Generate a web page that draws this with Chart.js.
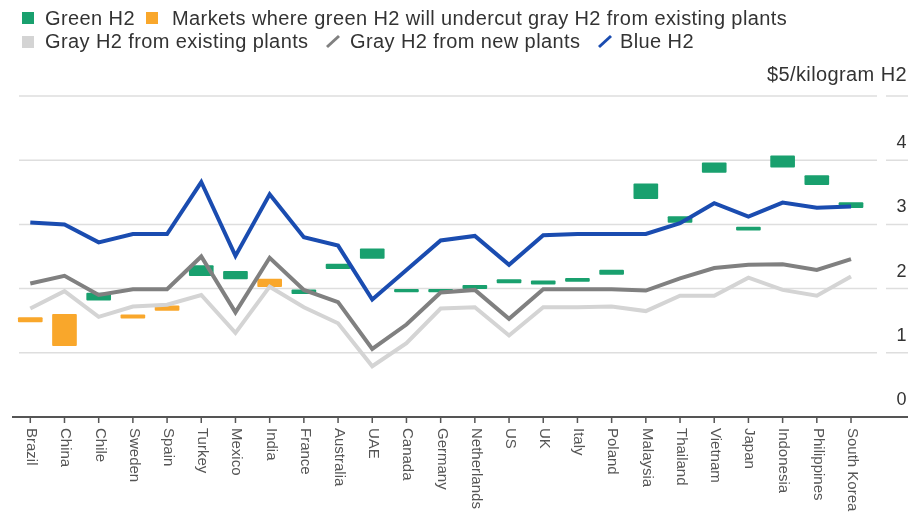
<!DOCTYPE html>
<html>
<head>
<meta charset="utf-8">
<script src="https://cdn.jsdelivr.net/npm/chart.js@4.4.1/dist/chart.umd.min.js"></script>
<style>
  body { margin: 0; background: #fff; }
  #wrap { position: relative; width: 917px; height: 516px; font-family: "Liberation Sans", Arial, sans-serif; }
  #chart { position: absolute; left: 0; top: 0; }
  .key { position: absolute; font-size: 20px; line-height: 20px; color: #333; letter-spacing: 0.4px; white-space: nowrap; }
  .sq { position: absolute; width: 12px; height: 12px; }
  .slash { position: absolute; }
</style>
</head>
<body>
<div id="wrap">
  <canvas id="chart" width="917" height="516"></canvas>
  <div class="sq" style="left:22px;top:12px;background:#19a06e"></div>
  <div class="key" style="left:45px;top:8px">Green H2</div>
  <div class="sq" style="left:146px;top:12px;background:#f9a72b"></div>
  <div class="key" style="left:172px;top:8px">Markets where green H2 will undercut gray H2 from existing plants</div>
  <div class="sq" style="left:22px;top:36px;background:#d4d4d4"></div>
  <div class="key" style="left:45px;top:31px">Gray H2 from existing plants</div>
  <svg class="slash" style="left:324px;top:34px" width="18" height="15"><line x1="3" y1="13" x2="15" y2="2" stroke="#808080" stroke-width="3"/></svg>
  <div class="key" style="left:350px;top:31px">Gray H2 from new plants</div>
  <svg class="slash" style="left:596px;top:34px" width="18" height="15"><line x1="3" y1="13" x2="15" y2="2" stroke="#1a4cb0" stroke-width="3"/></svg>
  <div class="key" style="left:620px;top:31px">Blue H2</div>
</div>
<script>
const countries = ['Brazil', 'China', 'Chile', 'Sweden', 'Spain', 'Turkey', 'Mexico', 'India', 'France',
  'Australia', 'UAE', 'Canada', 'Germany', 'Netherlands', 'US', 'UK', 'Italy', 'Poland', 'Malaysia',
  'Thailand', 'Vietnam', 'Japan', 'Indonesia', 'Philippines', 'South Korea'];

// $/kg H2
const blueH2 = [3.03, 3.00, 2.72, 2.85, 2.85, 3.66, 2.51, 3.47, 2.80, 2.67, 1.83, 2.29, 2.75,
  2.82, 2.37, 2.83, 2.85, 2.85, 2.85, 3.02, 3.33, 3.12, 3.34, 3.26, 3.28];
const grayNew = [2.08, 2.20, 1.90, 1.99, 1.99, 2.50, 1.63, 2.48, 1.98, 1.79, 1.06, 1.44, 1.94,
  1.98, 1.53, 1.99, 1.99, 1.99, 1.97, 2.16, 2.32, 2.37, 2.38, 2.29, 2.46];
const grayExisting = [1.69, 1.96, 1.56, 1.72, 1.75, 1.90, 1.31, 2.03, 1.71, 1.46, 0.79, 1.15, 1.69,
  1.71, 1.27, 1.71, 1.71, 1.72, 1.65, 1.89, 1.89, 2.17, 1.98, 1.89, 2.19];

// green H2 cost range per market
const greenLow = [1.48, 1.11, 1.82, 1.54, 1.66, 2.20, 2.15, 2.03, 1.92, 2.31, 2.47, 1.95, 1.95,
  2.00, 2.09, 2.07, 2.11, 2.22, 3.40, 3.03, 3.81, 2.91, 3.89, 3.62, 3.26];
const greenHigh = [1.55, 1.60, 1.93, 1.59, 1.73, 2.36, 2.27, 2.15, 1.98, 2.38, 2.62, 1.99, 1.99,
  2.05, 2.14, 2.12, 2.16, 2.29, 3.63, 3.12, 3.96, 2.96, 4.07, 3.76, 3.34];
const undercuts = ['Brazil', 'China', 'Sweden', 'Spain', 'India'];

const yTicks = [0, 1, 2, 3, 4, 5];
const unitLabel = '$5/kilogram H2';

const GREEN = '#19a06e', ORANGE = '#f9a72b', BLUE = '#1a4cb0', DARK = '#808080', LIGHT = '#d4d4d4';

const pts = vals => vals.map((v, i) => ({ x: i, y: v }));

// gridlines, right-hand value labels, bottom axis with rotated country names
const axisPainter = {
  id: 'axisPainter',
  beforeDatasetsDraw(chart) {
    const { ctx, chartArea: a, scales: { x, y } } = chart;
    ctx.save();
    ctx.strokeStyle = '#dedede';
    ctx.lineWidth = 1.5;
    yTicks.forEach(v => {
      if (v === 0) return;
      const py = y.getPixelForValue(v);
      ctx.beginPath();
      ctx.moveTo(a.left, py); ctx.lineTo(a.right, py);
      ctx.moveTo(886, py); ctx.lineTo(908, py);
      ctx.stroke();
    });

    ctx.fillStyle = '#333';
    ctx.textAlign = 'right';
    ctx.textBaseline = 'alphabetic';
    ctx.letterSpacing = '0.4px';
    yTicks.forEach(v => {
      const py = y.getPixelForValue(v);
      if (v === 5) {
        ctx.font = '20px "Liberation Sans", Arial, sans-serif';
        ctx.fillText(unitLabel, 907, py - 15);
      } else {
        ctx.font = '18px "Liberation Sans", Arial, sans-serif';
        ctx.fillText(String(v), 907, py - 12);
      }
    });

    const base = y.getPixelForValue(0);
    ctx.strokeStyle = '#555';
    ctx.lineWidth = 2;
    ctx.beginPath();
    ctx.moveTo(12, base); ctx.lineTo(908, base);
    ctx.stroke();

    ctx.lineWidth = 1.5;
    ctx.font = '15px "Liberation Sans", Arial, sans-serif';
    ctx.letterSpacing = '0px';
    ctx.fillStyle = '#555';
    ctx.textAlign = 'left';
    ctx.textBaseline = 'middle';
    countries.forEach((c, i) => {
      const px = x.getPixelForValue(i);
      ctx.beginPath();
      ctx.moveTo(px, base); ctx.lineTo(px, base + 6);
      ctx.stroke();
      ctx.save();
      ctx.translate(px + 1, base + 11);
      ctx.rotate(Math.PI / 2);
      ctx.fillText(c, 0, 0);
      ctx.restore();
    });
    ctx.restore();
  }
};

new Chart(document.getElementById('chart'), {
  type: 'bar',
  data: {
    datasets: [
      {
        type: 'line', label: 'Blue H2', data: pts(blueH2),
        borderColor: BLUE, borderWidth: 4, pointRadius: 0, order: 1
      },
      {
        type: 'line', label: 'Gray H2 from new plants', data: pts(grayNew),
        borderColor: DARK, borderWidth: 4, pointRadius: 0, order: 2
      },
      {
        type: 'line', label: 'Gray H2 from existing plants', data: pts(grayExisting),
        borderColor: LIGHT, borderWidth: 4, pointRadius: 0, order: 3
      },
      {
        label: 'Green H2',
        data: countries.map((c, i) => ({ x: i, y: [greenLow[i], greenHigh[i]] })),
        backgroundColor: countries.map(c => undercuts.includes(c) ? ORANGE : GREEN),
        barThickness: 24, borderSkipped: false, borderRadius: 1, order: 10, clip: false
      }
    ]
  },
  options: {
    responsive: false,
    animation: false,
    layout: { padding: { left: 19, right: 40, top: 96, bottom: 99 } },
    scales: {
      x: { type: 'linear', min: -0.33, max: 24.76, offset: false, display: false },
      y: { min: 0, max: 5, display: false }
    },
    plugins: { legend: { display: false }, tooltip: { enabled: false } }
  },
  plugins: [axisPainter]
});
</script>
</body>
</html>
